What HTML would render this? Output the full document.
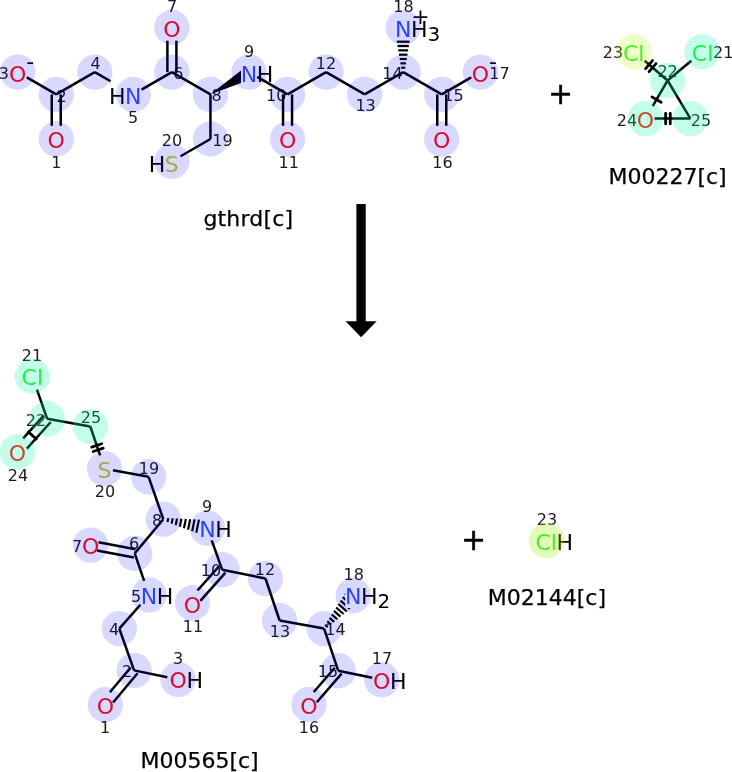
<!DOCTYPE html>
<html><head><meta charset="utf-8"><title>Reaction</title>
<style>
html,body{margin:0;padding:0;background:#fff;}
svg{display:block;will-change:transform;-webkit-font-smoothing:antialiased;font-family:"DejaVu Sans","Liberation Sans",sans-serif;}
</style></head>
<body>
<svg width="732" height="772" viewBox="0 0 732 772">
<defs><clipPath id="hc"><path clip-rule="evenodd" d="M0 0H732V772H0Z M345.2 580H400V608H345.2Z"/></clipPath></defs>
<rect width="732" height="772" fill="#fff"/>
<g>
<text x="47.59" y="148.3" font-size="22" fill="#FF0D0D" text-anchor="start">O</text>
<text x="56.3" y="167.93" font-size="16" fill="#1a1a1a" text-anchor="middle">1</text>
<text x="61.5" y="102.43" font-size="16" fill="#1a1a1a" text-anchor="middle">2</text>
<text x="9.04" y="82" font-size="22" fill="#FF0D0D" text-anchor="start">O</text>
<text x="30.3" y="69" font-size="22" fill="#000" text-anchor="middle">-</text>
<text x="3.9" y="78.63" font-size="16" fill="#1a1a1a" text-anchor="middle">3</text>
<text x="95.5" y="69.03" font-size="16" fill="#1a1a1a" text-anchor="middle">4</text>
<text x="125.12" y="104" font-size="22" fill="#3050F8" text-anchor="start">N</text>
<text x="109.12" y="104" font-size="22" fill="#000" text-anchor="start">H</text>
<text x="133.2" y="123.43" font-size="16" fill="#1a1a1a" text-anchor="middle">5</text>
<text x="178.3" y="78.63" font-size="16" fill="#1a1a1a" text-anchor="middle">6</text>
<text x="163.24" y="37" font-size="22" fill="#FF0D0D" text-anchor="start">O</text>
<text x="172.1" y="11.53" font-size="16" fill="#1a1a1a" text-anchor="middle">7</text>
<text x="216.6" y="100.83" font-size="16" fill="#1a1a1a" text-anchor="middle">8</text>
<text x="240.77" y="82" font-size="22" fill="#3050F8" text-anchor="start">N</text>
<text x="256.77" y="82" font-size="22" fill="#000" text-anchor="start">H</text>
<text x="249.1" y="56.83" font-size="16" fill="#1a1a1a" text-anchor="middle">9</text>
<text x="276.2" y="100.83" font-size="16" fill="#1a1a1a" text-anchor="middle">10</text>
<text x="278.89" y="148.3" font-size="22" fill="#FF0D0D" text-anchor="start">O</text>
<text x="288.7" y="167.93" font-size="16" fill="#1a1a1a" text-anchor="middle">11</text>
<text x="326" y="68.93" font-size="16" fill="#1a1a1a" text-anchor="middle">12</text>
<text x="365.6" y="111.03" font-size="16" fill="#1a1a1a" text-anchor="middle">13</text>
<text x="392.4" y="78.83" font-size="16" fill="#1a1a1a" text-anchor="middle">14</text>
<text x="453.5" y="100.83" font-size="16" fill="#1a1a1a" text-anchor="middle">15</text>
<text x="433.09" y="148.3" font-size="22" fill="#FF0D0D" text-anchor="start">O</text>
<text x="442.5" y="167.83" font-size="16" fill="#1a1a1a" text-anchor="middle">16</text>
<text x="471.64" y="82" font-size="22" fill="#FF0D0D" text-anchor="start">O</text>
<text x="493.1" y="69" font-size="22" fill="#000" text-anchor="middle">-</text>
<text x="499.4" y="79.03" font-size="16" fill="#1a1a1a" text-anchor="middle">17</text>
<text x="394.97" y="37" font-size="22" fill="#3050F8" text-anchor="start">N</text>
<text x="410.97" y="37" font-size="22" fill="#000" text-anchor="start">H</text>
<text x="427.47" y="41" font-size="20" fill="#000" text-anchor="start">3</text>
<text x="420.4" y="23.5" font-size="22" fill="#000" text-anchor="middle">+</text>
<text x="403.5" y="11.63" font-size="16" fill="#1a1a1a" text-anchor="middle">18</text>
<text x="222.5" y="146.23" font-size="16" fill="#1a1a1a" text-anchor="middle">19</text>
<text x="164.8" y="171.5" font-size="22" fill="#C6C62C" text-anchor="start">S</text>
<text x="148.8" y="171.5" font-size="22" fill="#000" text-anchor="start">H</text>
<text x="171.9" y="146.23" font-size="16" fill="#1a1a1a" text-anchor="middle">20</text>
<line x1="60.75" y1="94.4" x2="60.75" y2="125.8" stroke="#000" stroke-width="2.5" stroke-linecap="butt"/>
<line x1="51.75" y1="94.4" x2="51.75" y2="125.8" stroke="#000" stroke-width="2.5" stroke-linecap="butt"/>
<line x1="56.25" y1="94.4" x2="26.79" y2="77.36" stroke="#000" stroke-width="2.5" stroke-linecap="butt"/>
<line x1="56.25" y1="94.4" x2="94.8" y2="72.1" stroke="#000" stroke-width="2.5" stroke-linecap="butt"/>
<line x1="94.8" y1="72.1" x2="110.58" y2="81.23" stroke="#000" stroke-width="2.5" stroke-linecap="butt"/>
<line x1="141.57" y1="89.64" x2="171.9" y2="72.1" stroke="#000" stroke-width="2.5" stroke-linecap="butt"/>
<line x1="167.4" y1="72.1" x2="167.4" y2="40.7" stroke="#000" stroke-width="2.5" stroke-linecap="butt"/>
<line x1="176.4" y1="72.1" x2="176.4" y2="40.7" stroke="#000" stroke-width="2.5" stroke-linecap="butt"/>
<line x1="171.9" y1="72.1" x2="210.45" y2="94.4" stroke="#000" stroke-width="2.5" stroke-linecap="butt"/>
<polygon points="210.4,94.3 241,70.5 241,83" fill="#000"/>
<line x1="257.22" y1="76.86" x2="287.55" y2="94.4" stroke="#000" stroke-width="2.5" stroke-linecap="butt"/>
<line x1="292.05" y1="94.4" x2="292.05" y2="125.8" stroke="#000" stroke-width="2.5" stroke-linecap="butt"/>
<line x1="283.05" y1="94.4" x2="283.05" y2="125.8" stroke="#000" stroke-width="2.5" stroke-linecap="butt"/>
<line x1="287.55" y1="94.4" x2="326.1" y2="72.1" stroke="#000" stroke-width="2.5" stroke-linecap="butt"/>
<line x1="326.1" y1="72.1" x2="364.65" y2="94.4" stroke="#000" stroke-width="2.5" stroke-linecap="butt"/>
<line x1="364.65" y1="94.4" x2="403.2" y2="72.1" stroke="#000" stroke-width="2.5" stroke-linecap="butt"/>
<line x1="409.59" y1="41.7" x2="396.81" y2="41.7" stroke="#000" stroke-width="2.2" stroke-linecap="butt"/>
<line x1="408.87" y1="46.03" x2="397.53" y2="46.03" stroke="#000" stroke-width="2.2" stroke-linecap="butt"/>
<line x1="408.14" y1="50.36" x2="398.26" y2="50.36" stroke="#000" stroke-width="2.2" stroke-linecap="butt"/>
<line x1="407.42" y1="54.69" x2="398.98" y2="54.69" stroke="#000" stroke-width="2.2" stroke-linecap="butt"/>
<line x1="406.69" y1="59.02" x2="399.71" y2="59.02" stroke="#000" stroke-width="2.2" stroke-linecap="butt"/>
<line x1="405.97" y1="63.35" x2="400.43" y2="63.35" stroke="#000" stroke-width="2.2" stroke-linecap="butt"/>
<line x1="405.24" y1="67.68" x2="401.16" y2="67.68" stroke="#000" stroke-width="2.2" stroke-linecap="butt"/>
<line x1="403.2" y1="72.1" x2="441.75" y2="94.4" stroke="#000" stroke-width="2.5" stroke-linecap="butt"/>
<line x1="446.25" y1="94.4" x2="446.25" y2="125.8" stroke="#000" stroke-width="2.5" stroke-linecap="butt"/>
<line x1="437.25" y1="94.4" x2="437.25" y2="125.8" stroke="#000" stroke-width="2.5" stroke-linecap="butt"/>
<line x1="441.75" y1="94.4" x2="471.21" y2="77.36" stroke="#000" stroke-width="2.5" stroke-linecap="butt"/>
<line x1="210.45" y1="94.4" x2="210.45" y2="139" stroke="#000" stroke-width="2.5" stroke-linecap="butt"/>
<line x1="210.45" y1="139" x2="180.56" y2="156.29" stroke="#000" stroke-width="2.5" stroke-linecap="butt"/>
<text x="691.78" y="61" font-size="22" fill="#1FF01F" text-anchor="start">Cl</text>
<text x="723.3" y="58.03" font-size="16" fill="#1a1a1a" text-anchor="middle">21</text>
<text x="667.6" y="76.93" font-size="16" fill="#1a1a1a" text-anchor="middle">22</text>
<text x="622.88" y="61" font-size="22" fill="#1FF01F" text-anchor="start">Cl</text>
<text x="612.9" y="58.03" font-size="16" fill="#1a1a1a" text-anchor="middle">23</text>
<text x="636.84" y="127.5" font-size="22" fill="#FF0D0D" text-anchor="start">O</text>
<text x="627" y="126.03" font-size="16" fill="#1a1a1a" text-anchor="middle">24</text>
<text x="701" y="126.03" font-size="16" fill="#1a1a1a" text-anchor="middle">25</text>
<line x1="667.6" y1="80.5" x2="691.34" y2="60.75" stroke="#000" stroke-width="2.5" stroke-linecap="butt"/>
<line x1="667.6" y1="80.5" x2="644.63" y2="60.81" stroke="#000" stroke-width="2.5" stroke-linecap="butt"/>
<line x1="667.6" y1="80.5" x2="652.68" y2="106.23" stroke="#000" stroke-width="2.5" stroke-linecap="butt"/>
<line x1="654.5" y1="118.6" x2="690.4" y2="118.6" stroke="#000" stroke-width="2.5" stroke-linecap="butt"/>
<line x1="667.6" y1="80.5" x2="690.4" y2="118.6" stroke="#000" stroke-width="2.5" stroke-linecap="butt"/>
<text x="21.58" y="385" font-size="22" fill="#1FF01F" text-anchor="start">Cl</text>
<text x="32" y="360.83" font-size="16" fill="#1a1a1a" text-anchor="middle">21</text>
<text x="36" y="425.83" font-size="16" fill="#1a1a1a" text-anchor="middle">22</text>
<text x="8.74" y="461" font-size="22" fill="#FF0D0D" text-anchor="start">O</text>
<text x="18" y="480.83" font-size="16" fill="#1a1a1a" text-anchor="middle">24</text>
<text x="91" y="422.83" font-size="16" fill="#1a1a1a" text-anchor="middle">25</text>
<text x="97.5" y="478" font-size="22" fill="#C6C62C" text-anchor="start">S</text>
<text x="105" y="496.83" font-size="16" fill="#1a1a1a" text-anchor="middle">20</text>
<text x="149" y="473.83" font-size="16" fill="#1a1a1a" text-anchor="middle">19</text>
<text x="157" y="525.83" font-size="16" fill="#1a1a1a" text-anchor="middle">8</text>
<text x="199.17" y="537" font-size="22" fill="#3050F8" text-anchor="start">N</text>
<text x="215.17" y="537" font-size="22" fill="#000" text-anchor="start">H</text>
<text x="207" y="511.83" font-size="16" fill="#1a1a1a" text-anchor="middle">9</text>
<text x="134" y="548.83" font-size="16" fill="#1a1a1a" text-anchor="middle">6</text>
<text x="81.94" y="554" font-size="22" fill="#FF0D0D" text-anchor="start">O</text>
<text x="77" y="551.83" font-size="16" fill="#1a1a1a" text-anchor="middle">7</text>
<text x="140.77" y="604" font-size="22" fill="#3050F8" text-anchor="start">N</text>
<text x="156.77" y="604" font-size="22" fill="#000" text-anchor="start">H</text>
<text x="136" y="601.83" font-size="16" fill="#1a1a1a" text-anchor="middle">5</text>
<text x="211" y="575.83" font-size="16" fill="#1a1a1a" text-anchor="middle">10</text>
<text x="183.84" y="613" font-size="22" fill="#FF0D0D" text-anchor="start">O</text>
<text x="193" y="631.83" font-size="16" fill="#1a1a1a" text-anchor="middle">11</text>
<text x="114" y="634.83" font-size="16" fill="#1a1a1a" text-anchor="middle">4</text>
<text x="127" y="676.83" font-size="16" fill="#1a1a1a" text-anchor="middle">2</text>
<text x="169.44" y="688" font-size="22" fill="#FF0D0D" text-anchor="start">O</text>
<text x="186.44" y="688" font-size="22" fill="#000" text-anchor="start">H</text>
<text x="178" y="663.83" font-size="16" fill="#1a1a1a" text-anchor="middle">3</text>
<text x="96.64" y="714" font-size="22" fill="#FF0D0D" text-anchor="start">O</text>
<text x="105" y="732.83" font-size="16" fill="#1a1a1a" text-anchor="middle">1</text>
<text x="265" y="574.83" font-size="16" fill="#1a1a1a" text-anchor="middle">12</text>
<text x="280" y="636.83" font-size="16" fill="#1a1a1a" text-anchor="middle">13</text>
<text x="335.5" y="635.03" font-size="16" fill="#1a1a1a" text-anchor="middle">14</text>
<text x="344.97" y="604" font-size="22" fill="#3050F8" text-anchor="start">N</text>
<text x="360.97" y="604" font-size="22" fill="#000" text-anchor="start">H</text>
<text x="377.47" y="608" font-size="20" fill="#000" text-anchor="start">2</text>
<text x="353.7" y="579.93" font-size="16" fill="#1a1a1a" text-anchor="middle">18</text>
<text x="328" y="676.83" font-size="16" fill="#1a1a1a" text-anchor="middle">15</text>
<text x="373.04" y="689" font-size="22" fill="#FF0D0D" text-anchor="start">O</text>
<text x="390.04" y="689" font-size="22" fill="#000" text-anchor="start">H</text>
<text x="382" y="663.83" font-size="16" fill="#1a1a1a" text-anchor="middle">17</text>
<text x="300.34" y="714" font-size="22" fill="#FF0D0D" text-anchor="start">O</text>
<text x="309" y="732.83" font-size="16" fill="#1a1a1a" text-anchor="middle">16</text>
<line x1="47.2" y1="418.8" x2="36.94" y2="389.61" stroke="#000" stroke-width="2.5" stroke-linecap="butt"/>
<line x1="50.77" y1="422.01" x2="26.85" y2="448.66" stroke="#000" stroke-width="2.5" stroke-linecap="butt"/>
<line x1="43.63" y1="415.59" x2="23.18" y2="438.38" stroke="#000" stroke-width="2.5" stroke-linecap="butt"/>
<line x1="47.2" y1="418.8" x2="90.3" y2="426.5" stroke="#000" stroke-width="2.5" stroke-linecap="butt"/>
<line x1="90.3" y1="426.5" x2="100.11" y2="455.44" stroke="#000" stroke-width="2.5" stroke-linecap="butt"/>
<line x1="112.96" y1="470.24" x2="148.6" y2="476.8" stroke="#000" stroke-width="2.5" stroke-linecap="butt"/>
<line x1="148.6" y1="476.8" x2="163.3" y2="519.2" stroke="#000" stroke-width="2.5" stroke-linecap="butt"/>
<line x1="196.26" y1="532.79" x2="198.95" y2="519.61" stroke="#000" stroke-width="2.2" stroke-linecap="butt"/>
<line x1="192.15" y1="531.27" x2="194.57" y2="519.4" stroke="#000" stroke-width="2.2" stroke-linecap="butt"/>
<line x1="188.04" y1="529.74" x2="190.19" y2="519.19" stroke="#000" stroke-width="2.2" stroke-linecap="butt"/>
<line x1="183.93" y1="528.22" x2="185.82" y2="518.99" stroke="#000" stroke-width="2.2" stroke-linecap="butt"/>
<line x1="179.82" y1="526.7" x2="181.44" y2="518.78" stroke="#000" stroke-width="2.2" stroke-linecap="butt"/>
<line x1="175.72" y1="525.17" x2="177.06" y2="518.57" stroke="#000" stroke-width="2.2" stroke-linecap="butt"/>
<line x1="171.61" y1="523.65" x2="172.69" y2="518.36" stroke="#000" stroke-width="2.2" stroke-linecap="butt"/>
<line x1="167.5" y1="522.13" x2="168.31" y2="518.15" stroke="#000" stroke-width="2.2" stroke-linecap="butt"/>
<line x1="163.3" y1="519.2" x2="134.7" y2="553.4" stroke="#000" stroke-width="2.5" stroke-linecap="butt"/>
<line x1="133.92" y1="557.53" x2="97" y2="550.58" stroke="#000" stroke-width="2.5" stroke-linecap="butt"/>
<line x1="135.48" y1="549.27" x2="98.55" y2="542.32" stroke="#000" stroke-width="2.5" stroke-linecap="butt"/>
<line x1="134.7" y1="553.4" x2="144.12" y2="580.81" stroke="#000" stroke-width="2.5" stroke-linecap="butt"/>
<line x1="140.39" y1="604.74" x2="119.3" y2="628.6" stroke="#000" stroke-width="2.5" stroke-linecap="butt"/>
<line x1="119.3" y1="628.6" x2="134.1" y2="670.4" stroke="#000" stroke-width="2.5" stroke-linecap="butt"/>
<line x1="137.55" y1="673.29" x2="113.05" y2="702.46" stroke="#000" stroke-width="2.5" stroke-linecap="butt"/>
<line x1="130.65" y1="667.51" x2="109.89" y2="692.23" stroke="#000" stroke-width="2.5" stroke-linecap="butt"/>
<line x1="134.1" y1="670.4" x2="167.32" y2="677.2" stroke="#000" stroke-width="2.5" stroke-linecap="butt"/>
<line x1="211.74" y1="540.45" x2="222.1" y2="569.7" stroke="#000" stroke-width="2.5" stroke-linecap="butt"/>
<line x1="225.45" y1="572.7" x2="200.32" y2="600.81" stroke="#000" stroke-width="2.5" stroke-linecap="butt"/>
<line x1="218.75" y1="566.7" x2="197.48" y2="590.48" stroke="#000" stroke-width="2.5" stroke-linecap="butt"/>
<line x1="222.1" y1="569.7" x2="265.5" y2="578.5" stroke="#000" stroke-width="2.5" stroke-linecap="butt"/>
<line x1="265.5" y1="578.5" x2="279.6" y2="620.5" stroke="#000" stroke-width="2.5" stroke-linecap="butt"/>
<line x1="279.6" y1="620.5" x2="324.1" y2="628.6" stroke="#000" stroke-width="2.5" stroke-linecap="butt"/>
<g clip-path="url(#hc)">
<line x1="356.18" y1="603.56" x2="344.93" y2="593.64" stroke="#000" stroke-width="2.2" stroke-linecap="butt"/>
<line x1="353.03" y1="606.18" x2="342.72" y2="597.09" stroke="#000" stroke-width="2.2" stroke-linecap="butt"/>
<line x1="349.88" y1="608.81" x2="340.51" y2="600.55" stroke="#000" stroke-width="2.2" stroke-linecap="butt"/>
<line x1="346.73" y1="611.43" x2="338.31" y2="604" stroke="#000" stroke-width="2.2" stroke-linecap="butt"/>
<line x1="343.58" y1="614.05" x2="336.1" y2="607.45" stroke="#000" stroke-width="2.2" stroke-linecap="butt"/>
<line x1="340.43" y1="616.67" x2="333.89" y2="610.9" stroke="#000" stroke-width="2.2" stroke-linecap="butt"/>
<line x1="337.28" y1="619.3" x2="331.68" y2="614.36" stroke="#000" stroke-width="2.2" stroke-linecap="butt"/>
<line x1="334.13" y1="621.92" x2="329.47" y2="617.81" stroke="#000" stroke-width="2.2" stroke-linecap="butt"/>
<line x1="330.98" y1="624.54" x2="327.27" y2="621.26" stroke="#000" stroke-width="2.2" stroke-linecap="butt"/>
<line x1="327.83" y1="627.16" x2="325.06" y2="624.72" stroke="#000" stroke-width="2.2" stroke-linecap="butt"/>
</g>
<line x1="324.1" y1="628.6" x2="338.2" y2="670.7" stroke="#000" stroke-width="2.5" stroke-linecap="butt"/>
<line x1="341.6" y1="673.65" x2="316.79" y2="702.28" stroke="#000" stroke-width="2.5" stroke-linecap="butt"/>
<line x1="334.8" y1="667.75" x2="313.78" y2="692.01" stroke="#000" stroke-width="2.5" stroke-linecap="butt"/>
<line x1="338.2" y1="670.7" x2="372.2" y2="677.73" stroke="#000" stroke-width="2.5" stroke-linecap="butt"/>
<text x="535.38" y="549.5" font-size="22" fill="#1FF01F" text-anchor="start">Cl</text>
<text x="556.38" y="549.5" font-size="22" fill="#000" text-anchor="start">H</text>
<text x="546.9" y="525.43" font-size="16" fill="#1a1a1a" text-anchor="middle">23</text>
</g>
<g>
<rect x="356.4" y="204" width="9.3" height="118" fill="#000"/>
<polygon points="345.6,321.2 376.7,321.2 361.1,337.2" fill="#000"/>
<text x="560.5" y="104.1" font-size="29.5" fill="#000" text-anchor="middle" stroke="#000" stroke-width="0.55">+</text>
<text x="473.5" y="550.1" font-size="29.5" fill="#000" text-anchor="middle" stroke="#000" stroke-width="0.55">+</text>
<text x="248.4" y="225.5" font-size="22" fill="#000" text-anchor="middle" letter-spacing="0.2" stroke="#000" stroke-width="0.25">gthrd[c]</text>
<text x="667.6" y="183.9" font-size="22" fill="#000" text-anchor="middle" stroke="#000" stroke-width="0.25">M00227[c]</text>
<text x="546.9" y="604.8" font-size="22" fill="#000" text-anchor="middle" stroke="#000" stroke-width="0.25">M02144[c]</text>
<text x="199.6" y="768.4" font-size="22" fill="#000" text-anchor="middle" stroke="#000" stroke-width="0.25">M00565[c]</text>
</g>
<g>
<circle cx="56.25" cy="139" r="17.7" fill="rgb(0,0,255)" fill-opacity="0.15"/>
<circle cx="56.25" cy="94.4" r="17.7" fill="rgb(0,0,255)" fill-opacity="0.15"/>
<circle cx="17.7" cy="72.1" r="17.7" fill="rgb(0,0,255)" fill-opacity="0.15"/>
<circle cx="94.8" cy="72.1" r="17.7" fill="rgb(0,0,255)" fill-opacity="0.15"/>
<circle cx="133.35" cy="94.4" r="17.7" fill="rgb(0,0,255)" fill-opacity="0.15"/>
<circle cx="171.9" cy="72.1" r="17.7" fill="rgb(0,0,255)" fill-opacity="0.15"/>
<circle cx="171.9" cy="27.5" r="17.7" fill="rgb(0,0,255)" fill-opacity="0.15"/>
<circle cx="210.45" cy="94.4" r="17.7" fill="rgb(0,0,255)" fill-opacity="0.15"/>
<circle cx="249" cy="72.1" r="17.7" fill="rgb(0,0,255)" fill-opacity="0.15"/>
<circle cx="287.55" cy="94.4" r="17.7" fill="rgb(0,0,255)" fill-opacity="0.15"/>
<circle cx="287.55" cy="139" r="17.7" fill="rgb(0,0,255)" fill-opacity="0.15"/>
<circle cx="326.1" cy="72.1" r="17.7" fill="rgb(0,0,255)" fill-opacity="0.15"/>
<circle cx="364.65" cy="94.4" r="17.7" fill="rgb(0,0,255)" fill-opacity="0.15"/>
<circle cx="403.2" cy="72.1" r="17.7" fill="rgb(0,0,255)" fill-opacity="0.15"/>
<circle cx="441.75" cy="94.4" r="17.7" fill="rgb(0,0,255)" fill-opacity="0.15"/>
<circle cx="441.75" cy="139" r="17.7" fill="rgb(0,0,255)" fill-opacity="0.15"/>
<circle cx="480.3" cy="72.1" r="17.7" fill="rgb(0,0,255)" fill-opacity="0.15"/>
<circle cx="403.2" cy="27.5" r="17.7" fill="rgb(0,0,255)" fill-opacity="0.15"/>
<circle cx="210.45" cy="139" r="17.7" fill="rgb(0,0,255)" fill-opacity="0.15"/>
<circle cx="171.9" cy="161.3" r="17.7" fill="rgb(0,0,255)" fill-opacity="0.15"/>
<circle cx="702.1" cy="51.8" r="17.7" fill="rgb(15,255,163)" fill-opacity="0.25"/>
<circle cx="667.6" cy="80.5" r="17.7" fill="rgb(15,255,163)" fill-opacity="0.25"/>
<circle cx="634" cy="51.7" r="17.7" fill="rgb(179,255,35)" fill-opacity="0.25"/>
<circle cx="645.5" cy="118.6" r="17.7" fill="rgb(15,255,163)" fill-opacity="0.25"/>
<circle cx="690.4" cy="118.6" r="17.7" fill="rgb(15,255,163)" fill-opacity="0.25"/>
<circle cx="32.3" cy="376.4" r="17.7" fill="rgb(15,255,163)" fill-opacity="0.25"/>
<circle cx="47.2" cy="418.8" r="17.7" fill="rgb(15,255,163)" fill-opacity="0.25"/>
<circle cx="17.4" cy="452" r="17.7" fill="rgb(15,255,163)" fill-opacity="0.25"/>
<circle cx="90.3" cy="426.5" r="17.7" fill="rgb(15,255,163)" fill-opacity="0.25"/>
<circle cx="104.6" cy="468.7" r="17.7" fill="rgb(0,0,255)" fill-opacity="0.15"/>
<circle cx="148.6" cy="476.8" r="17.7" fill="rgb(0,0,255)" fill-opacity="0.15"/>
<circle cx="163.3" cy="519.2" r="17.7" fill="rgb(0,0,255)" fill-opacity="0.15"/>
<circle cx="207.4" cy="528.2" r="17.7" fill="rgb(0,0,255)" fill-opacity="0.15"/>
<circle cx="134.7" cy="553.4" r="17.7" fill="rgb(0,0,255)" fill-opacity="0.15"/>
<circle cx="90.6" cy="545.1" r="17.7" fill="rgb(0,0,255)" fill-opacity="0.15"/>
<circle cx="149" cy="595" r="17.7" fill="rgb(0,0,255)" fill-opacity="0.15"/>
<circle cx="222.1" cy="569.7" r="17.7" fill="rgb(0,0,255)" fill-opacity="0.15"/>
<circle cx="192.5" cy="602.8" r="17.7" fill="rgb(0,0,255)" fill-opacity="0.15"/>
<circle cx="119.3" cy="628.6" r="17.7" fill="rgb(0,0,255)" fill-opacity="0.15"/>
<circle cx="134.1" cy="670.4" r="17.7" fill="rgb(0,0,255)" fill-opacity="0.15"/>
<circle cx="178.1" cy="679.4" r="17.7" fill="rgb(0,0,255)" fill-opacity="0.15"/>
<circle cx="105.3" cy="704.7" r="17.7" fill="rgb(0,0,255)" fill-opacity="0.15"/>
<circle cx="265.5" cy="578.5" r="17.7" fill="rgb(0,0,255)" fill-opacity="0.15"/>
<circle cx="279.6" cy="620.5" r="17.7" fill="rgb(0,0,255)" fill-opacity="0.15"/>
<circle cx="324.1" cy="628.6" r="17.7" fill="rgb(0,0,255)" fill-opacity="0.15"/>
<circle cx="353.2" cy="595.6" r="17.7" fill="rgb(0,0,255)" fill-opacity="0.15"/>
<circle cx="338.2" cy="670.7" r="17.7" fill="rgb(0,0,255)" fill-opacity="0.15"/>
<circle cx="381.7" cy="679.7" r="17.7" fill="rgb(0,0,255)" fill-opacity="0.15"/>
<circle cx="309" cy="704.4" r="17.7" fill="rgb(0,0,255)" fill-opacity="0.15"/>
<circle cx="546.6" cy="540.6" r="17.7" fill="rgb(158,238,25)" fill-opacity="0.3"/>
</g>
<g>
<line x1="656" y1="63.57" x2="649.1" y2="71.62" stroke="#000" stroke-width="2.8" stroke-linecap="round"/>
<line x1="652.5" y1="60.58" x2="645.6" y2="68.63" stroke="#000" stroke-width="2.8" stroke-linecap="round"/>
<line x1="651.97" y1="96.89" x2="661.13" y2="102.21" stroke="#000" stroke-width="2.8" stroke-linecap="round"/>
<line x1="665.65" y1="123.9" x2="665.65" y2="113.3" stroke="#000" stroke-width="2.8" stroke-linecap="round"/>
<line x1="670.25" y1="123.9" x2="670.25" y2="113.3" stroke="#000" stroke-width="2.8" stroke-linecap="round"/>
<line x1="28.36" y1="431.86" x2="36.24" y2="438.94" stroke="#000" stroke-width="2.8" stroke-linecap="round"/>
<line x1="91.69" y1="447.12" x2="101.73" y2="443.72" stroke="#000" stroke-width="2.8" stroke-linecap="round"/>
<line x1="93.17" y1="451.48" x2="103.21" y2="448.08" stroke="#000" stroke-width="2.8" stroke-linecap="round"/>
</g>
</svg>
</body></html>
